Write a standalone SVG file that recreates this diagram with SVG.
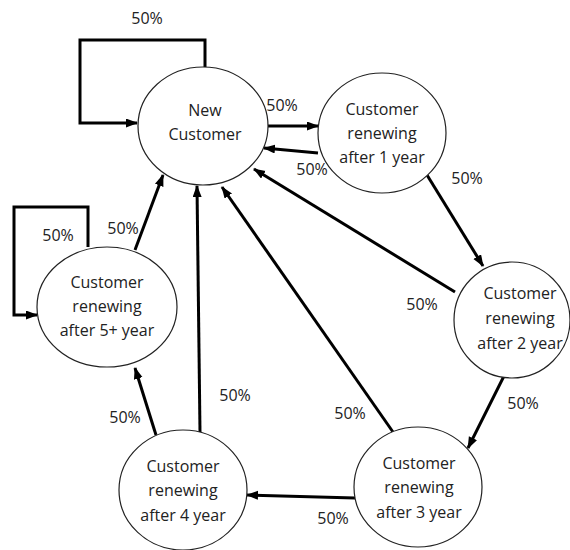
<svg xmlns="http://www.w3.org/2000/svg" width="570" height="550" viewBox="0 0 570 550">
<style>
.node ellipse{fill:#fff;stroke:#222;stroke-width:1.2}
.node text{font-family:"Open Sans","Liberation Sans",sans-serif;font-size:16px;fill:#222;text-anchor:middle}
.lbl{font-family:"Open Sans","Liberation Sans",sans-serif;font-size:16px;fill:#222;text-anchor:middle}
.edge{fill:none;stroke:#000;stroke-width:3;marker-end:url(#ah)}
</style>
<defs>
<marker id="ah" markerUnits="userSpaceOnUse" markerWidth="12" markerHeight="10" refX="11" refY="4.5" orient="auto">
<path d="M0,0 L12,4.5 L0,9 z" fill="#000"/>
</marker>
</defs>
<rect width="570" height="550" fill="#fff"/>
<g id="connectors">
<polyline class="edge" points="205,67 205,40 80,40 80,123 137,123"/>
<line class="edge" x1="268" y1="126" x2="318" y2="126"/>
<line class="edge" x1="318" y1="153" x2="264" y2="148"/>
<line class="edge" x1="427" y1="175" x2="483" y2="266"/>
<line class="edge" x1="455" y1="292" x2="254" y2="169"/>
<line class="edge" x1="504" y1="376" x2="468" y2="448"/>
<line class="edge" x1="393" y1="432" x2="222" y2="187"/>
<line class="edge" x1="355" y1="498" x2="247" y2="495"/>
<line class="edge" x1="200" y1="432" x2="197" y2="186"/>
<line class="edge" x1="156" y1="435" x2="135" y2="368"/>
<line class="edge" x1="135" y1="250" x2="163" y2="175"/>
<polyline class="edge" points="88,247 88,207 14,207 14,315 37,315"/>
<text class="lbl" x="147" y="24">50%</text>
<text class="lbl" x="282" y="111">50%</text>
<text class="lbl" x="312" y="175">50%</text>
<text class="lbl" x="467" y="184">50%</text>
<text class="lbl" x="422" y="310">50%</text>
<text class="lbl" x="523" y="409">50%</text>
<text class="lbl" x="350" y="419">50%</text>
<text class="lbl" x="333" y="524">50%</text>
<text class="lbl" x="235" y="401">50%</text>
<text class="lbl" x="125" y="423">50%</text>
<text class="lbl" x="123" y="234">50%</text>
<text class="lbl" x="58" y="241">50%</text>
</g>
<g id="new-customer" class="node">
<ellipse cx="203" cy="126" rx="65" ry="59"/>
<text x="205" y="116">New</text>
<text x="205" y="140">Customer</text>
</g>
<g id="renew-1" class="node">
<ellipse cx="382" cy="133" rx="64" ry="60"/>
<text x="382" y="115">Customer</text>
<text x="382" y="139">renewing</text>
<text x="382" y="163">after 1 year</text>
</g>
<g id="renew-2" class="node">
<ellipse cx="512" cy="320" rx="58" ry="58"/>
<text x="520" y="299">Customer</text>
<text x="520" y="324">renewing</text>
<text x="520" y="349">after 2 year</text>
</g>
<g id="renew-3" class="node">
<ellipse cx="418" cy="487" rx="64" ry="60"/>
<text x="419" y="469">Customer</text>
<text x="419" y="493">renewing</text>
<text x="419" y="518">after 3 year</text>
</g>
<g id="renew-4" class="node">
<ellipse cx="183" cy="490" rx="64" ry="60"/>
<text x="183" y="472">Customer</text>
<text x="183" y="496">renewing</text>
<text x="183" y="521">after 4 year</text>
</g>
<g id="renew-5" class="node">
<ellipse cx="107" cy="307" rx="70" ry="60"/>
<text x="107" y="288">Customer</text>
<text x="107" y="312">renewing</text>
<text x="107" y="336">after 5+ year</text>
</g>
</svg>
